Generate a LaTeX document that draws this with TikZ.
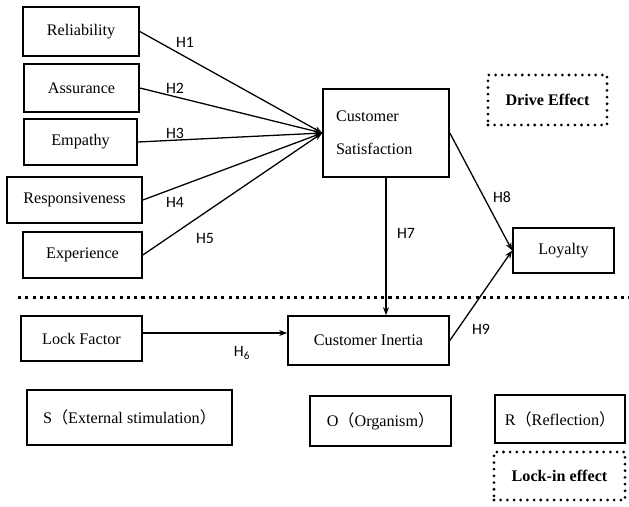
\documentclass[tikz,border=0pt]{standalone}
\usepackage{fontspec}
\setmainfont{Liberation Serif}
\newfontfamily\hfont{Carlito}
\newfontfamily\cjk{Noto Sans CJK SC}
\usetikzlibrary{arrows.meta}
\tikzstyle{box}=[draw, line width=1.4pt, inner sep=0pt, font=\fontsize{13.8}{16}\selectfont]
\tikzstyle{dotbox}=[box, line width=2.6pt, line cap=round, dash pattern=on 0pt off 5.7pt, font=\fontsize{13.8}{16}\selectfont\bfseries]
\tikzstyle{hyp}=[font=\hfont\fontsize{13.5}{15}\selectfont, inner sep=1pt]
\tikzstyle{arr}=[-{Stealth[length=2.4mm,width=1.8mm]}, line width=1.1pt]

\begin{document}
\begin{tikzpicture}[x=0.03cm,y=-0.03cm]
		\useasboundingbox (0,0) rectangle (629,506);
		
		\node[box, minimum width=3.48cm, minimum height=1.47cm] (rel) at (81,31.5) {Reliability};
		\node[box, minimum width=3.45cm, minimum height=1.44cm] (ass) at (81.5,88) {Assurance};
		\node[box, minimum width=3.39cm, minimum height=1.38cm] (emp) at (80.5,142) {Empathy};
		\node[box, minimum width=4.05cm, minimum height=1.38cm] (res) at (74.5,200) {Responsiveness};
		\node[box, minimum width=3.57cm, minimum height=1.38cm] (exp) at (82.5,255) {Experience};
		
		\node[box, minimum width=3.78cm, minimum height=2.64cm, inner xsep=0.39cm, text width=3cm, align=left] (cs) at (386,133) {Customer\\[12pt]Satisfaction};
		\node[dotbox, minimum width=3.57cm, minimum height=1.5cm] (drive) at (547.5,100) {Drive Effect};
		\node[box, minimum width=3.03cm, minimum height=1.35cm] (loy) at (563.5,250.5) {Loyalty};
		
		\draw[line width=2.6pt, dash pattern=on 2.6pt off 3.6pt] (18,297.5) -- (629,297.5);
		
		\node[box, minimum width=3.63cm, minimum height=1.35cm] (lock) at (81.5,338.5) {Lock Factor};
		\node[box, minimum width=4.83cm, minimum height=1.47cm] (ci) at (368.5,340.5) {Customer Inertia};
		
		\node[box, minimum width=6.15cm, minimum height=1.65cm] (s) at (129.5,417.5) {S{\cjk（}External stimulation{\cjk）}};
		\node[box, minimum width=4.23cm, minimum height=1.5cm] (o) at (380.5,421) {O{\cjk（}Organism{\cjk）}};
		\node[box, minimum width=3.9cm, minimum height=1.44cm] (r) at (560,419) {R{\cjk（}Reflection{\cjk）}};
		\node[dotbox, minimum width=3.93cm, minimum height=1.44cm] (lockin) at (559.5,476) {Lock-in effect};
		
		\draw[arr] (rel.east) -- (cs.west);
		\draw[arr] (ass.east) -- (cs.west);
		\draw[arr] (emp.east) -- (cs.west);
		\draw[arr] (res.east) -- (cs.west);
		\draw[arr] (exp.east) -- (cs.west);
		\draw[arr] (cs.east) -- (loy.west);
		\draw[arr] (cs.south) -- (cs.south |- ci.north);
		\draw[arr] (ci.east) -- (loy.west);
		\draw[arr] ([yshift=0.165cm]lock.east) -- ([yshift=0.165cm]lock.east -| ci.west);
		
		\node[hyp] (h1) at (185,42) {H1};
		\node[hyp] (h2) at (175,88) {H2};
		\node[hyp] (h3) at (175,133) {H3};
		\node[hyp] (h4) at (175,202) {H4};
		\node[hyp] (h5) at (205,238) {H5};
		\node[hyp] (h6) at (242,353) {H\textsubscript{6}};
		\node[hyp] (h7) at (406,233) {H7};
		\node[hyp] (h8) at (502,197) {H8};
		\node[hyp] (h9) at (481,329) {H9};
		
\end{tikzpicture}
\end{document}
